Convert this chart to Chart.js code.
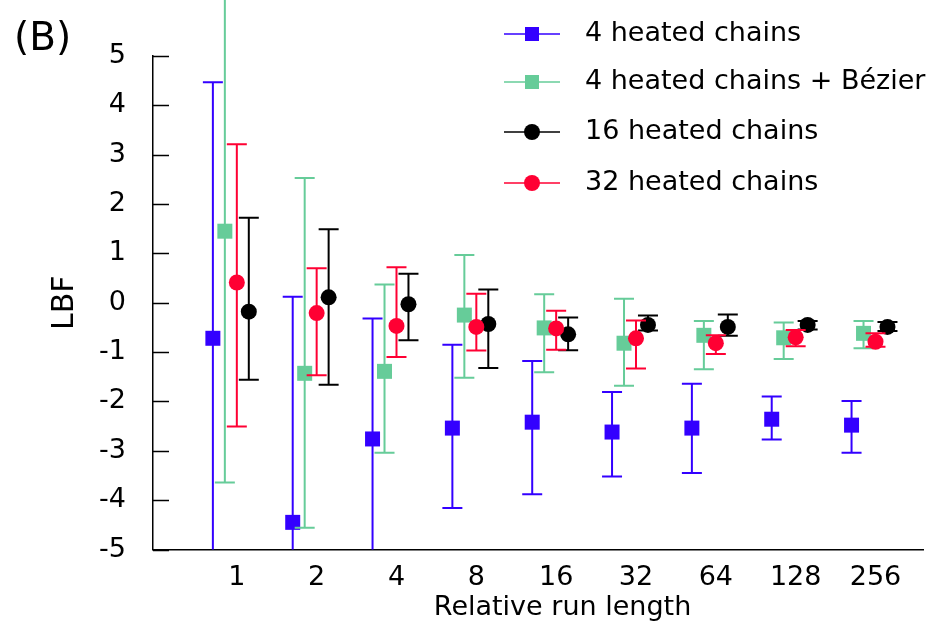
<!DOCTYPE html>
<html>
<head>
<meta charset="utf-8">
<script src="https://cdn.jsdelivr.net/npm/chart.js@4.4.1/dist/chart.umd.min.js"></script>
<style>
  html, body { margin: 0; padding: 0; background: #fff; }
  #wrap { width: 934px; height: 625px; }
</style>
</head>
<body>
<div id="wrap"><canvas id="lbf"></canvas></div>
<script>
var runLengths = ['1', '2', '4', '8', '16', '32', '64', '128', '256'];
var yTicks = [-5, -4, -3, -2, -1, 0, 1, 2, 3, 4, 5];

// 4 heated chains
var heat4Mean = [-0.72, -4.45, -2.76, -2.54, -2.42, -2.62, -2.54, -2.36, -2.48];
var heat4Hi   = [4.47, 0.12, -0.32, -0.85, -1.18, -1.81, -1.64, -1.90, -1.99];
var heat4Lo   = [-5.91, -9.02, -5.20, -4.16, -3.88, -3.52, -3.45, -2.77, -3.04];

// 4 heated chains + Bezier
var bezMean = [1.45, -1.43, -1.39, -0.25, -0.51, -0.82, -0.66, -0.71, -0.62];
var bezHi   = [6.54, 2.53, 0.37, 0.97, 0.17, 0.08, -0.37, -0.40, -0.37];
var bezLo   = [-3.64, -4.56, -3.04, -1.52, -1.41, -1.68, -1.35, -1.14, -0.92];

// 16 heated chains
var heat16Mean = [-0.18, 0.11, -0.03, -0.43, -0.64, -0.45, -0.49, -0.45, -0.49];
var heat16Hi   = [1.72, 1.49, 0.59, 0.27, -0.30, -0.26, -0.24, -0.37, -0.39];
var heat16Lo   = [-1.56, -1.66, -0.76, -1.32, -0.96, -0.56, -0.67, -0.54, -0.57];

// 32 heated chains
var heat32Mean = [0.41, -0.21, -0.47, -0.49, -0.52, -0.72, -0.82, -0.70, -0.79];
var heat32Hi   = [3.21, 0.70, 0.72, 0.18, -0.16, -0.36, -0.66, -0.55, -0.62];
var heat32Lo   = [-2.51, -1.47, -1.10, -0.97, -0.95, -1.33, -1.04, -0.88, -0.89];

var FONT = '"DejaVu Sans", sans-serif';

function points(means, shift) {
  return means.map(function (m, i) { return { x: i + shift, y: m }; });
}

function series(label, color, style, radius, shift, means, hi, lo, order) {
  return {
    label: label,
    data: points(means, shift),
    hi: hi,
    lo: lo,
    order: order,
    showLine: false,
    clip: false,
    borderColor: color,
    backgroundColor: color,
    pointStyle: style,
    pointRadius: radius,
    pointHoverRadius: radius,
    pointBorderWidth: 0,
    pointBackgroundColor: color
  };
}

// draws each dataset's error bars just before its markers
var errorBars = {
  id: 'errorBars',
  beforeDatasetDraw: function (chart, args) {
    var ds = chart.data.datasets[args.index];
    var y = chart.scales.y;
    var area = chart.chartArea;
    var ctx = chart.ctx;
    ctx.save();
    ctx.strokeStyle = ds.borderColor;
    ctx.lineWidth = 2;
    args.meta.data.forEach(function (pt, i) {
      var top = y.getPixelForValue(ds.hi[i]);
      var bot = y.getPixelForValue(ds.lo[i]);
      ctx.beginPath();
      ctx.moveTo(pt.x, Math.max(top, 0));
      ctx.lineTo(pt.x, Math.min(bot, area.bottom));
      if (top >= 0) { ctx.moveTo(pt.x - 10, top); ctx.lineTo(pt.x + 10, top); }
      if (bot <= area.bottom) { ctx.moveTo(pt.x - 10, bot); ctx.lineTo(pt.x + 10, bot); }
      ctx.stroke();
    });
    ctx.restore();
  }
};

// inward ticks, panel letter, x title and the key
var decor = {
  id: 'decor',
  afterDraw: function (chart) {
    var ctx = chart.ctx;
    var area = chart.chartArea;
    var y = chart.scales.y;
    var x = chart.scales.x;
    ctx.save();
    ctx.strokeStyle = '#000';
    ctx.lineWidth = 1.5;
    ctx.beginPath();
    yTicks.forEach(function (v) {
      var py = Math.round(y.getPixelForValue(v)) + 0.5;
      ctx.moveTo(area.left, py);
      ctx.lineTo(area.left + 16, py);
    });
    ctx.stroke();

    ctx.fillStyle = '#000';
    ctx.textBaseline = 'middle';
    ctx.textAlign = 'left';
    ctx.font = '39px ' + FONT;
    ctx.fillText('(B)', 14, 40);

    ctx.textAlign = 'center';
    ctx.font = '27px ' + FONT;
    ctx.fillText('Relative run length', x.getPixelForValue(4.08), 608);

    var rows = [34, 82, 132, 183];
    ctx.textAlign = 'left';
    chart.data.datasets.forEach(function (ds, r) {
      var ry = rows[r];
      ctx.strokeStyle = ds.borderColor;
      ctx.lineWidth = 1.6;
      ctx.beginPath();
      ctx.moveTo(504, ry);
      ctx.lineTo(560, ry);
      ctx.stroke();
      ctx.fillStyle = ds.borderColor;
      if (ds.pointStyle === 'rect') {
        ctx.fillRect(532 - 7, ry - 7, 14, 14);
      } else {
        ctx.beginPath();
        ctx.arc(532, ry, ds.pointRadius, 0, Math.PI * 2);
        ctx.fill();
      }
      ctx.fillStyle = '#000';
      ctx.font = '27px ' + FONT;
      ctx.fillText(ds.label, 585, ry);
    });
    ctx.restore();
  }
};

new Chart(document.getElementById('lbf'), {
  type: 'scatter',
  data: {
    datasets: [
      series('4 heated chains', '#3300ff', 'rect', 10.6, -0.30, heat4Mean, heat4Hi, heat4Lo, 3),
      series('4 heated chains + Bézier', '#66cc99', 'rect', 10.6, -0.15, bezMean, bezHi, bezLo, 2),
      series('16 heated chains', '#000000', 'circle', 8, 0.15, heat16Mean, heat16Hi, heat16Lo, 1),
      series('32 heated chains', '#ff0033', 'circle', 8, 0, heat32Mean, heat32Hi, heat32Lo, 0)
    ]
  },
  options: {
    responsive: true,
    maintainAspectRatio: false,
    animation: false,
    layout: { padding: { top: 56, right: 8, bottom: 0, left: 0 } },
    plugins: {
      legend: { display: false },
      tooltip: { enabled: false }
    },
    scales: {
      x: {
        type: 'linear',
        min: -1.05,
        max: 8.6,
        afterBuildTicks: function (scale) {
          scale.ticks = runLengths.map(function (_, i) { return { value: i }; });
        },
        afterFit: function (scale) { scale.height = 75.5; },
        grid: { display: false },
        border: { display: true, color: '#000', width: 1.5 },
        ticks: {
          autoSkip: false,
          maxRotation: 0,
          padding: 4,
          color: '#000',
          font: { family: FONT, size: 27 },
          callback: function (v) { return runLengths[Math.round(v)]; }
        }
      },
      y: {
        min: -5,
        max: 5,
        afterBuildTicks: function (scale) {
          scale.ticks = yTicks.map(function (v) { return { value: v }; });
        },
        afterFit: function (scale) { scale.width = 153; },
        grid: { display: false },
        border: { display: true, color: '#000', width: 1.5 },
        ticks: {
          padding: 19,
          color: '#000',
          font: { family: FONT, size: 27 }
        },
        title: {
          display: true,
          text: 'LBF',
          color: '#000',
          font: { family: FONT, size: 30 },
          padding: { top: 47, bottom: 0 }
        }
      }
    }
  },
  plugins: [errorBars, decor]
});
</script>
</body>
</html>
